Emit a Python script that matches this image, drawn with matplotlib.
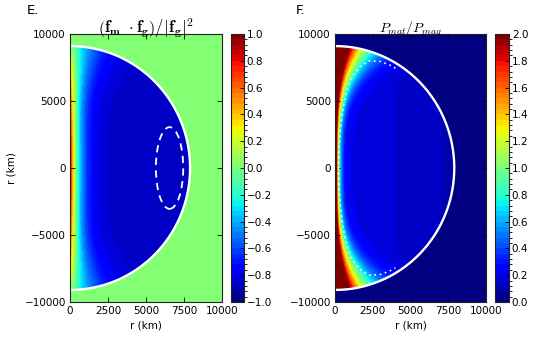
import numpy as np
import matplotlib
matplotlib.use("Agg")
import matplotlib.pyplot as plt
from matplotlib.colors import BoundaryNorm
from matplotlib.patches import Ellipse
import matplotlib.cm as cm

plt.rcParams['font.family'] = ['DejaVu Sans']
plt.rcParams['mathtext.fontset'] = 'cm'

# ---- data ----
panel_labels = ["E.", "F."]
titles = [r'$\left(\mathbf{f_m}\ \cdot\mathbf{f_g}\right)/\left|\mathbf{f_g}\right|^2$',
          r'$P_{mat}/P_{mag}$']
x_ticks = [0, 2500, 5000, 7500, 10000]
y_ticks = [-10000, -5000, 0, 5000, 10000]
cbar_ticks_left = [-1.0, -0.8, -0.6, -0.4, -0.2, 0.0, 0.2, 0.4, 0.6, 0.8, 1.0]
cbar_ticks_right = [0.0, 0.2, 0.4, 0.6, 0.8, 1.0, 1.2, 1.4, 1.6, 1.8, 2.0]
star_a = 7900.0   # equatorial radius (km)
star_b = 9100.0   # polar radius (km)
# left field parameters
left_outside = 0.0
left_interior = -0.86
left_axis_center = 0.95
left_axis_drop = 0.85
left_L0, left_L1 = 550.0, 900.0
# right field parameters
right_outside = 0.0
right_A = 3.3
right_L0, right_L1, right_Lpow = 185.0, 1490.0, 3.5
right_base0, right_base1 = 0.21, 0.10
# dashed ellipse (left panel)
dash_center = (6550.0, 0.0)
dash_width = 1800.0
dash_height = 6100.0
# dotted contour (right panel), upper half, mirrored
dot_r = [4000, 3600, 3000, 2300, 2207, 1656, 1104, 773, 552, 375, 265, 220]
dot_z = [7450, 7700, 7950, 8000, 8000, 7560, 6814, 5821, 4577, 3085, 1590, 0]

# ---- grid ----
r = np.linspace(0, 10000, 301)
z = np.linspace(-10000, 10000, 601)
R, Z = np.meshgrid(r, z)
inside = (R / star_a) ** 2 + (Z / star_b) ** 2 <= 1.0
zn = np.clip(np.abs(Z) / star_b, 0, 1)

v0 = left_axis_center - left_axis_drop * zn ** 2
Ll = left_L0 + left_L1 * zn ** 4
left_val = left_interior + (v0 - left_interior) * np.exp(-R / Ll)
left_field = np.where(inside, left_val, left_outside)
left_field = np.clip(left_field, -1, 1)

Lr = right_L0 + right_L1 * zn ** right_Lpow
base = right_base0 - right_base1 * (R / star_a)
right_val = base + right_A * np.exp(-R / Lr)
right_field = np.where(inside, right_val, right_outside)
right_field = np.clip(right_field, 0, 2)

# ---- figure ----
fig = plt.figure(figsize=(5.4, 3.38), dpi=100)
W, H = 540.0, 338.0
def rect(x0, x1, y0, y1):
    return [x0 / W, 1 - y1 / H, (x1 - x0) / W, (y1 - y0) / H]

ax_l = fig.add_axes(rect(70, 222, 34, 302))
cax_l = fig.add_axes(rect(231, 244, 34, 302))
ax_r = fig.add_axes(rect(335, 486, 34, 302))
cax_r = fig.add_axes(rect(495, 509, 34, 302))

cmap = plt.get_cmap('jet')
norm_l = BoundaryNorm(np.linspace(-1, 1, 51), cmap.N)
norm_r = BoundaryNorm(np.linspace(0, 2, 51), cmap.N)

ax_l.pcolormesh(R, Z, left_field, cmap=cmap, norm=norm_l, shading='auto', rasterized=True)
ax_r.pcolormesh(R, Z, right_field, cmap=cmap, norm=norm_r, shading='auto', rasterized=True)

th = np.linspace(-np.pi / 2, np.pi / 2, 400)
for ax in (ax_l, ax_r):
    ax.plot(star_a * np.cos(th), star_b * np.sin(th), color='white', lw=1.7)

ax_l.add_patch(Ellipse(dash_center, dash_width, dash_height, fill=False,
                       edgecolor='white', lw=1.3, ls=(0, (4, 3))))
dr = np.array(dot_r, dtype=float)
dz = np.array(dot_z, dtype=float)
full_r = np.concatenate([dr, dr[::-1][1:]])
full_z = np.concatenate([dz, -dz[::-1][1:]])
ax_r.plot(full_r, full_z, color='white', lw=1.2, ls=(0, (1, 2.2)))

for ax, lab, ttl, fs in zip((ax_l, ax_r), panel_labels, titles, (12, 10)):
    ax.set_xlim(0, 10000)
    ax.set_ylim(-10000, 10000)
    ax.set_xticks(x_ticks)
    ax.set_yticks(y_ticks)
    ax.tick_params(direction='in', top=True, right=True, labelsize=7.5,
                   length=3.5, width=0.6, pad=3)
    ax.set_xlabel('r (km)', fontsize=7.5, labelpad=3)
    ax.set_title(ttl, fontsize=fs, pad=1)
    for s in ax.spines.values():
        s.set_linewidth(0.8)
        s.set_color('#222222')
ax_l.set_ylabel('r (km)', fontsize=7.5, labelpad=6)

fig.text(27 / W, 1 - 14 / H, panel_labels[0], fontsize=9.5)
fig.text(296 / W, 1 - 14 / H, panel_labels[1], fontsize=9.5)

for cax, norm, ticks in ((cax_l, norm_l, cbar_ticks_left), (cax_r, norm_r, cbar_ticks_right)):
    sm = cm.ScalarMappable(norm=norm, cmap=cmap)
    cb = fig.colorbar(sm, cax=cax, ticks=ticks)
    cb.ax.tick_params(direction='in', labelsize=7.5, length=3, width=0.6, pad=2)
    cb.ax.set_yticklabels([f'{t:.1f}'.replace('-', '\u2212') for t in ticks])
    cb.outline.set_linewidth(0.8)
    cb.outline.set_edgecolor('#222222')

fig.savefig('out.png', dpi=100)
